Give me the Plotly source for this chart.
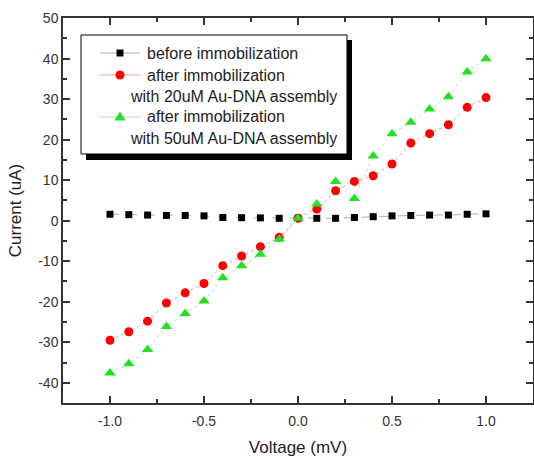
import plotly.graph_objects as go

# voltage steps (mV)
voltage = [-1.0, -0.9, -0.8, -0.7, -0.6, -0.5, -0.4, -0.3, -0.2, -0.1, 0.0,
           0.1, 0.2, 0.3, 0.4, 0.5, 0.6, 0.7, 0.8, 0.9, 1.0]

# current (uA)
before_imm = [1.6, 1.5, 1.4, 1.3, 1.3, 1.2, 0.8, 0.75, 0.7, 0.6, 0.6,
              0.6, 0.6, 0.8, 1.0, 1.2, 1.3, 1.4, 1.4, 1.6, 1.7]
after_20uM = [-29.5, -27.4, -24.8, -20.3, -17.8, -15.5, -11.1, -8.7, -6.4, -4.1, 0.6,
              2.9, 7.4, 9.7, 11.1, 14.0, 19.2, 21.5, 23.7, 28.0, 30.4]
after_50uM = [-37.6, -35.3, -31.8, -26.1, -22.9, -19.8, -14.1, -11.1, -8.3, -4.6, 0.6,
              4.1, 9.7, 5.5, 16.0, 21.5, 24.3, 27.6, 30.6, 36.7, 40.0]

x_ticks = [-1.0, -0.5, 0.0, 0.5, 1.0]
x_labels = ["-1.0", "-0.5", "0.0", "0.5", "1.0"]
y_ticks = [50, 40, 30, 20, 10, 0, -10, -20, -30, -40]
y_labels = ["50", "40", "30", "20", "10", "0", "-10", "-20", "-30", "-40"]

FONT = "Liberation Sans, Arial, sans-serif"
W, H = 534, 457
L, R, T, B = 63, 1, 18, 54
PW, PH = W - L - R, H - T - B


def px(xp):
    return (xp - L) / PW


def py(yp):
    return (H - B - yp) / PH


fig = go.Figure()
fig.add_trace(go.Scatter(x=voltage, y=before_imm, mode="lines+markers",
                         line=dict(color="#b0b0b0", width=1, dash="dash"),
                         marker=dict(symbol="square", size=7, color="black")))
fig.add_trace(go.Scatter(x=voltage, y=after_20uM, mode="lines+markers",
                         line=dict(color="#f2a0a0", width=1, dash="dot"),
                         marker=dict(symbol="circle", size=9, color="#ff0000")))
fig.add_trace(go.Scatter(x=voltage, y=after_50uM, mode="lines+markers",
                         line=dict(color="#a8eaa8", width=1, dash="dot"),
                         marker=dict(symbol="triangle-up", size=10, color="#22e022")))

# hand made legend box with drop shadow (hanging indent on second lines)
shapes = [
    dict(type="rect", xref="paper", yref="paper", x0=px(86), x1=px(352), y0=py(160), y1=py(40),
         fillcolor="black", line=dict(width=0)),
    dict(type="rect", xref="paper", yref="paper", x0=px(81), x1=px(347), y0=py(154), y1=py(35),
         fillcolor="white", line=dict(color="black", width=1)),
]
annotations = []
entries = [
    (53, "#b0b0b0", "square", "before immobilization", None),
    (75, "#f2a0a0", "circle", "after immobilization", (97, "with 20uM Au-DNA assembly")),
    (117, "#a8eaa8", "triangle", "after immobilization", (138, "with 50uM Au-DNA assembly")),
]
for yl, lc, sym, text, extra in entries:
    shapes.append(dict(type="line", xref="paper", yref="paper", x0=px(100), x1=px(140),
                       y0=py(yl), y1=py(yl), line=dict(color=lc, width=1)))
    if sym == "square":
        shapes.append(dict(type="rect", xref="paper", yref="paper", x0=px(116.5), x1=px(123.5),
                           y0=py(yl + 3.5), y1=py(yl - 3.5), fillcolor="black", line=dict(width=0)))
    elif sym == "circle":
        shapes.append(dict(type="circle", xref="paper", yref="paper", x0=px(115.5), x1=px(124.5),
                           y0=py(yl + 4.5), y1=py(yl - 4.5), fillcolor="#ff0000", line=dict(width=0)))
    else:
        pts = [(120 - 5.5, yl + 3.5), (120 + 5.5, yl + 3.5), (120, yl - 5.5)]
        path = "M " + " L ".join(f"{px(a):.5f},{py(b):.5f}" for a, b in pts) + " Z"
        shapes.append(dict(type="path", xref="paper", yref="paper", path=path,
                           fillcolor="#22e022", line=dict(width=0)))
    annotations.append(dict(x=px(145), y=py(yl), xref="paper", yref="paper", text=text,
                            showarrow=False, xanchor="left", yanchor="middle",
                            font=dict(family=FONT, size=16, color="#222")))
    if extra:
        annotations.append(dict(x=px(128), y=py(extra[0]), xref="paper", yref="paper",
                                text=extra[1], showarrow=False, xanchor="left", yanchor="middle",
                                font=dict(family=FONT, size=16, color="#222")))

axis_common = dict(
    showline=True, linecolor="#333", linewidth=1.5, mirror="ticks",
    ticks="inside", ticklen=7, tickwidth=1.5, tickcolor="#333",
    showgrid=False, zeroline=False,
    tickfont=dict(family=FONT, size=14, color="#333"),
)

fig.update_layout(
    width=W, height=H,
    margin=dict(l=L, r=R, t=T, b=B, autoexpand=False),
    paper_bgcolor="white", plot_bgcolor="white",
    showlegend=False,
    shapes=shapes, annotations=annotations,
    xaxis=dict(range=[-1.25, 1.25], tickvals=x_ticks, ticktext=x_labels, ticklabelstandoff=4,
               minor=dict(dtick=0.25, tick0=0, ticks="inside", ticklen=4, tickwidth=1.5, tickcolor="#333"),
               title=dict(text="Voltage (mV)", font=dict(family=FONT, size=17, color="#222"), standoff=14),
               **axis_common),
    yaxis=dict(range=[-45, 50.05], tickvals=y_ticks, ticktext=y_labels,
               minor=dict(dtick=5, tick0=0, ticks="inside", ticklen=4, tickwidth=1.5, tickcolor="#333"),
               title=dict(text="Current (uA)", font=dict(family=FONT, size=17, color="#222"), standoff=12),
               **axis_common),
)

# the page body has a default 8px margin; drop it so the figure sits at the window corner
fig.write_html("out.html", config={"displayModeBar": False},
               post_script="document.body.style.margin='0';document.body.style.overflow='hidden';")
